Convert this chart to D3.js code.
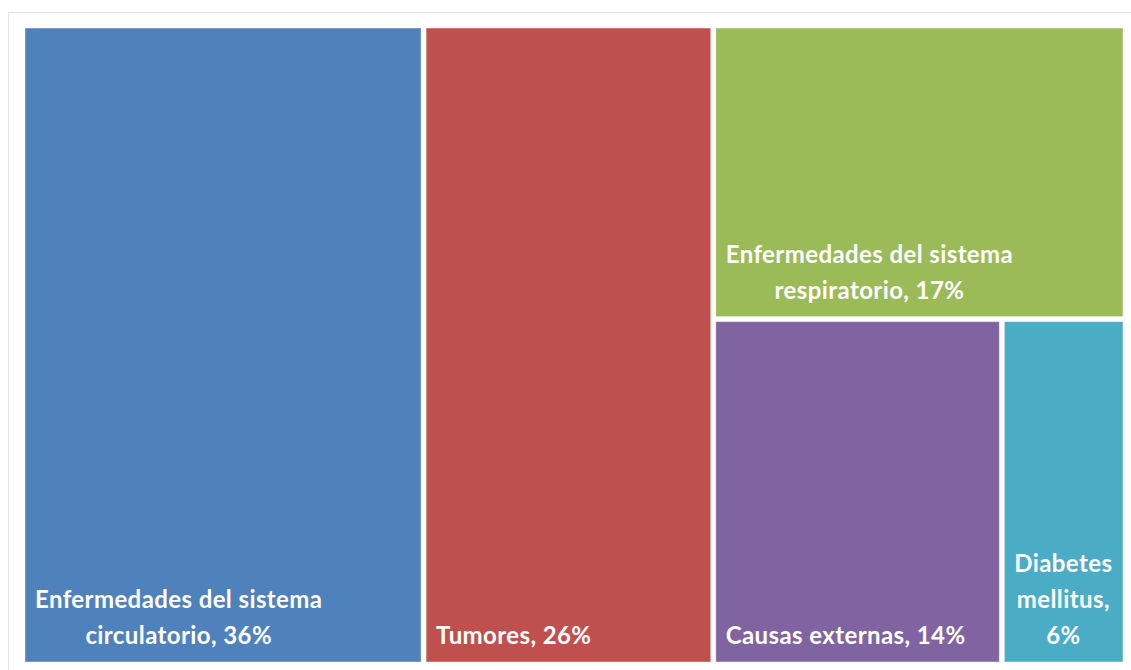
<!DOCTYPE html>
<html>
<head>
<meta charset="utf-8">
<script src="https://cdn.jsdelivr.net/npm/d3@7"></script>
<style>
  body { margin: 0; background: #fff; }
  svg text { font-family: Lato, "Open Sans", sans-serif; font-weight: 700; fill: #fff; letter-spacing: 0.4px; }
</style>
</head>
<body>
<svg width="1131" height="670"></svg>
<script>
var categories = [
  "Enfermedades del sistema circulatorio",
  "Tumores",
  "Enfermedades del sistema respiratorio",
  "Causas externas",
  "Diabetes mellitus"
];
var values = [36, 26, 17, 14, 6];
var colors = ["#4F81BD", "#C0504D", "#9BBB59", "#8064A2", "#4BACC6"];

var svg = d3.select("svg"),
  width = +svg.attr("width"),
  height = +svg.attr("height");

// chart frame
svg.append("rect")
  .attr("x", 8.5).attr("y", 12.5)
  .attr("width", 1140).attr("height", 680)
  .attr("fill", "#fff")
  .attr("stroke", "#e3e3e3");

var data = {
  name: "root",
  children: categories.map(function(c, i) {
    return { name: c, value: values[i], color: colors[i] };
  })
};

var root = d3.hierarchy(data).sum(function(d) { return d.value || 0; });

d3.treemap()
  .tile(d3.treemapBinary)
  .size([1098, 634])
  .paddingInner(5)(root);

var plot = svg.append("g").attr("transform", "translate(25,28)");

var cell = plot.selectAll("g")
  .data(root.leaves())
  .enter().append("g");

cell.append("rect")
  .attr("x", function(d) { return d.x0; })
  .attr("y", function(d) { return d.y0; })
  .attr("width", function(d) { return d.x1 - d.x0; })
  .attr("height", function(d) { return d.y1 - d.y0; })
  .attr("fill", function(d) { return d.data.color; })
  .attr("stroke", "rgba(255,255,255,0.45)")
  .attr("stroke-width", 1);

var fontSize = 24, lineH = 36, pad = 10;

cell.each(function(d) {
  var g = d3.select(this);
  var label = d.data.name + ", " + d.data.value + "%";
  var words = label.split(" ");
  var maxW = (d.x1 - d.x0) - 2 * pad;
  var t = g.append("text").attr("font-size", fontSize);
  var lines = [], cur = "";
  words.forEach(function(w) {
    var test = cur ? cur + " " + w : w;
    t.text(test);
    if (t.node().getComputedTextLength() > maxW && cur) {
      lines.push(cur);
      cur = w;
    } else {
      cur = test;
    }
  });
  lines.push(cur);
  t.remove();

  // measure widths
  var widths = lines.map(function(l) {
    var m = g.append("text").attr("font-size", fontSize).text(l);
    var w = m.node().getComputedTextLength();
    m.remove();
    return w;
  });
  var blockW = d3.max(widths);
  var cx = d.x0 + pad + blockW / 2;
  var lastBase = d.y1 - 18;

  g.selectAll("text.lbl")
    .data(lines)
    .enter().append("text")
    .attr("class", "lbl")
    .attr("font-size", fontSize)
    .attr("text-anchor", "middle")
    .attr("x", cx)
    .attr("y", function(l, i) { return lastBase - (lines.length - 1 - i) * lineH; })
    .text(function(l) { return l; });
});
</script>
</body>
</html>
